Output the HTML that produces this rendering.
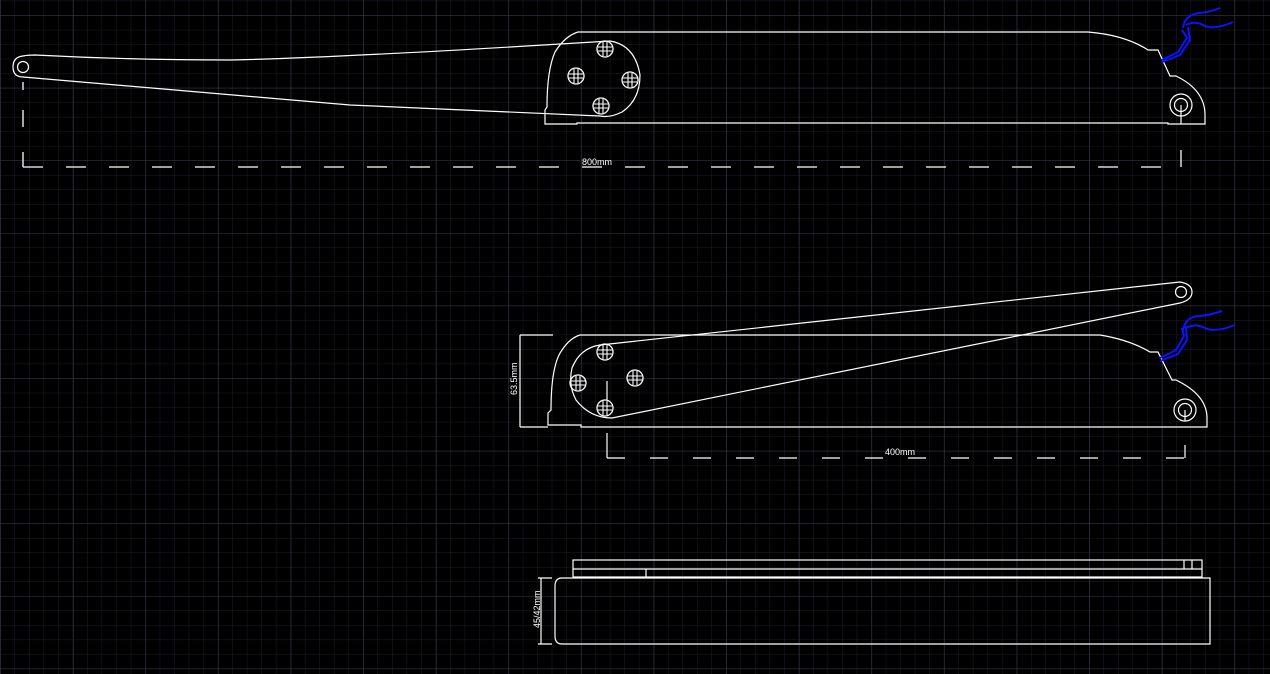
<!DOCTYPE html>
<html><head><meta charset="utf-8"><style>
html,body{margin:0;padding:0;background:#000;width:1270px;height:674px;overflow:hidden}
svg{display:block}
text{font-family:"Liberation Sans",sans-serif;fill:#fff;font-size:9px}
</style></head><body>
<svg width="1270" height="674" viewBox="0 0 1270 674" xmlns="http://www.w3.org/2000/svg">
<defs>
<pattern id="minor" width="14.52" height="14.52" patternUnits="userSpaceOnUse" x="0" y="0.7">
<path d="M0 0V14.52M0 0H14.52" stroke="#1f1f2a" stroke-width="1" fill="none"/>
</pattern>
<pattern id="major" width="72.6" height="72.6" patternUnits="userSpaceOnUse" x="0.4" y="15.2">
<path d="M0 0V72.6M0 0H72.6" stroke="#383848" stroke-width="1" fill="none"/>
</pattern>
<g id="bolt"><circle r="8" fill="none" stroke="#fff" stroke-width="1.3"/><path d="M-2-7V7M2-7V7M-7-2H7M-7 2H7" stroke="#fff" stroke-width="1.1"/></g>
</defs>
<rect width="1270" height="674" fill="url(#minor)"/>
<rect width="1270" height="674" fill="url(#major)"/>
<g fill="none" stroke="#fff" stroke-width="1.2">
<path d="M578 32H1088Q1125 35 1148 50H1158L1170 76H1176Q1205 90 1205 115V124H1168V123H577V124H545V110L547 107Q547 70 555 52Q565 36 578 32Z"/>
<path d="M560 44L610 41Q635 45 640 75Q640 100 622 112Q610 118 600 116"/>
<path d="M23 56Q28 55 35 55Q130 60 230 60Q330 58 560 44"/>
<path d="M23 77L350 105L600 116"/>
<path d="M23 56Q13 57 13 67Q13 77 23 77"/>
<circle cx="23" cy="67" r="5.5"/>
<use href="#bolt" x="605" y="49"/><use href="#bolt" x="576" y="76"/><use href="#bolt" x="630" y="80"/><use href="#bolt" x="601" y="106"/>
<circle cx="1181" cy="105" r="11"/><circle cx="1181" cy="105" r="6.5"/><path d="M1181 105V124"/>
<path d="M23 82V90M23 110V127M23 152V167M1181 150V167" stroke-width="1.3"/>
<path d="M23 167H1181" stroke-dasharray="20 23" stroke-width="1.3"/>
<path d="M580 335H1100Q1130 340 1150 352H1158L1172 380H1176Q1207 395 1207 418V427H581V425H548V413L551 410Q551 365 562 350Q570 338 580 335Z"/>
<path d="M600 345L1180 282Q1192 284 1192 292Q1192 300 1180 303L612 418Q590 418 576 400Q568 385 572 368Q580 348 600 345"/>
<circle cx="1181" cy="292" r="5.5"/>
<use href="#bolt" x="605" y="352"/><use href="#bolt" x="578" y="383"/><use href="#bolt" x="635" y="378"/><use href="#bolt" x="605" y="408"/>
<path d="M607 381V400"/>
<circle cx="1185" cy="410" r="11"/><circle cx="1185" cy="410" r="6.5"/><path d="M1185 410V421"/>
<path d="M520 335V427M520 335H553M520 427H548"/>
<path d="M607 433V458M1185 445V458"/>
<path d="M607 458H1185" stroke-dasharray="18 25"/>
<rect x="573" y="560" width="629" height="17"/>
<path d="M573 569H1202M646 569V577M1184 560V569M1192 560V569"/>
<path d="M562 578H1210V644H562Q555 644 555 636V586Q555 578 562 578Z"/>
<path d="M541 578V644M538 578H552M538 644H552"/>
</g>
<g fill="none" stroke="#0a14ff" stroke-width="2">
<path d="M1162 60L1178 52L1187 38L1182 30M1162 62L1180 55L1190 40L1188 27"/>
<path d="M1183 28Q1185 14 1200 13Q1210 12 1220 8"/>
<path d="M1186 25Q1195 20 1205 26Q1215 30 1233 22"/>
<path d="M1160 358L1176 350L1184 336L1182 328M1160 361L1178 354L1187 340L1186 326"/>
<path d="M1183 330Q1186 316 1200 316Q1210 315 1222 311"/>
<path d="M1186 328Q1195 323 1205 328Q1215 333 1235 325"/>
</g>
<text x="582" y="165">800mm</text>
<text x="885" y="455">400mm</text>
<text transform="translate(517,395) rotate(-90)">63.5mm</text>
<text transform="translate(540,628) rotate(-90)">45/42mm</text>
</svg>
</body></html>
